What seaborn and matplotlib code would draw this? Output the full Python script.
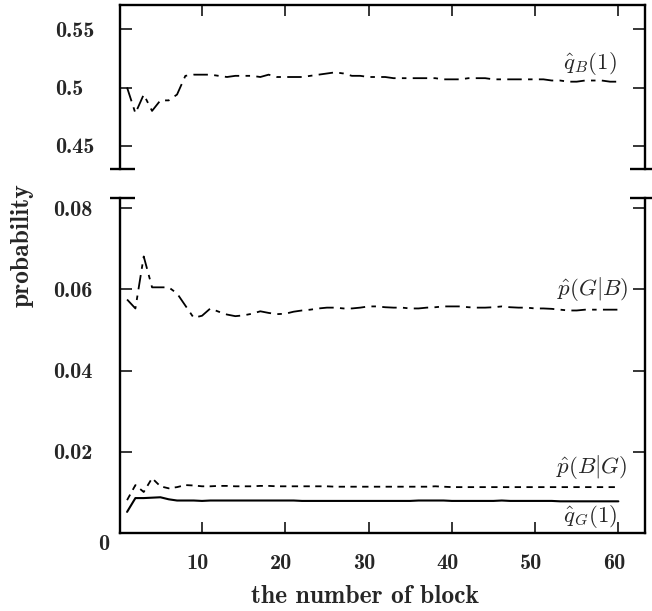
import numpy as np
import pandas as pd
import matplotlib
matplotlib.use("Agg")
import matplotlib.pyplot as plt
import matplotlib.transforms as mtransforms
import seaborn as sns

# ---------------- data ----------------
blocks = list(range(1, 61))

q_B = [0.500, 0.478, 0.494, 0.480, 0.489, 0.489, 0.494, 0.510, 0.511, 0.511,
       0.511, 0.510, 0.509, 0.510, 0.510, 0.510, 0.509, 0.511, 0.509, 0.509,
       0.509, 0.509, 0.510, 0.511, 0.512, 0.513, 0.512, 0.510, 0.510, 0.509,
       0.509, 0.509, 0.508, 0.508, 0.508, 0.508, 0.508, 0.508, 0.507, 0.507,
       0.507, 0.508, 0.508, 0.508, 0.507, 0.507, 0.507, 0.507, 0.507, 0.507,
       0.507, 0.506, 0.506, 0.505, 0.505, 0.506, 0.506, 0.506, 0.505, 0.505]

p_GB = [0.0575, 0.0553, 0.0681, 0.0605, 0.0605, 0.0605, 0.0590, 0.0560, 0.0530, 0.0535,
        0.0553, 0.0545, 0.0538, 0.0534, 0.0536, 0.0540, 0.0546, 0.0542, 0.0539, 0.0540,
        0.0545, 0.0548, 0.0550, 0.0553, 0.0555, 0.0555, 0.0553, 0.0553, 0.0555, 0.0558,
        0.0558, 0.0556, 0.0555, 0.0555, 0.0553, 0.0553, 0.0555, 0.0556, 0.0558, 0.0558,
        0.0558, 0.0556, 0.0555, 0.0555, 0.0556, 0.0558, 0.0556, 0.0555, 0.0555, 0.0553,
        0.0553, 0.0552, 0.0550, 0.0548, 0.0548, 0.0550, 0.0550, 0.0550, 0.0550, 0.0550]

p_BG = [0.0081, 0.0118, 0.0101, 0.0135, 0.0115, 0.0110, 0.0113, 0.0118, 0.0117, 0.0115,
        0.0115, 0.0116, 0.0116, 0.0115, 0.0115, 0.0115, 0.0116, 0.0116, 0.0115, 0.0115,
        0.0115, 0.0115, 0.0115, 0.0115, 0.0115, 0.0114, 0.0114, 0.0114, 0.0114, 0.0114,
        0.0114, 0.0114, 0.0114, 0.0114, 0.0114, 0.0114, 0.0114, 0.0115, 0.0114, 0.0113,
        0.0113, 0.0113, 0.0113, 0.0113, 0.0113, 0.0113, 0.0113, 0.0113, 0.0113, 0.0113,
        0.0113, 0.0113, 0.0113, 0.0113, 0.0113, 0.0113, 0.0113, 0.0113, 0.0113, 0.0113]

q_G = [0.0052, 0.0086, 0.0086, 0.0087, 0.0088, 0.0083, 0.0080, 0.0080, 0.0080, 0.0079,
       0.0080, 0.0080, 0.0080, 0.0080, 0.0080, 0.0080, 0.0080, 0.0080, 0.0080, 0.0080,
       0.0080, 0.0079, 0.0079, 0.0079, 0.0079, 0.0079, 0.0079, 0.0079, 0.0079, 0.0079,
       0.0079, 0.0079, 0.0079, 0.0079, 0.0079, 0.0080, 0.0080, 0.0080, 0.0080, 0.0079,
       0.0079, 0.0079, 0.0079, 0.0079, 0.0079, 0.0080, 0.0079, 0.0079, 0.0079, 0.0079,
       0.0079, 0.0079, 0.0078, 0.0078, 0.0078, 0.0078, 0.0078, 0.0078, 0.0078, 0.0078]

x_ticks = [10, 20, 30, 40, 50, 60]
x_ticklabels = ["10", "20", "30", "40", "50", "60"]
top_yticks = [0.45, 0.5, 0.55]
top_yticklabels = ["0.45", "0.5", "0.55"]
bot_yticks = [0.0, 0.02, 0.04, 0.06, 0.08]
bot_yticklabels = ["0", "0.02", "0.04", "0.06", "0.08"]

labels = {
    "qB": r"$\hat{q}_B(1)$",
    "pGB": r"$\hat{p}(G|B)$",
    "pBG": r"$\hat{p}(B|G)$",
    "qG": r"$\hat{q}_G(1)$",
}

# ---------------- style ----------------
sns.set_style("ticks")
plt.rcParams["mathtext.fontset"] = "cm"
plt.rcParams["font.family"] = ["cmb10", "DejaVu Serif"]
plt.rcParams["axes.unicode_minus"] = False
plt.rcParams["axes.formatter.use_mathtext"] = False

W, H = 652, 611
fig = plt.figure(figsize=(W / 100, H / 100), dpi=100)
L, R = 120, 645
ax_top = fig.add_axes([L / W, 1 - 169 / H, (R - L) / W, (169 - 5) / H])
ax_bot = fig.add_axes([L / W, 1 - 533 / H, (R - L) / W, (533 - 198) / H])

lw = 1.3
dashdot = (0, (8, 3.5, 2.5, 3.5))
sns.lineplot(x=blocks, y=q_B, ax=ax_top, color="black", lw=lw, linestyle=dashdot)
sns.lineplot(x=blocks, y=p_GB, ax=ax_bot, color="black", lw=lw, linestyle=dashdot)
sns.lineplot(x=blocks, y=p_BG, ax=ax_bot, color="black", lw=lw, linestyle=(0, (3.5, 3)))
sns.lineplot(x=blocks, y=q_G, ax=ax_bot, color="black", lw=1.5, linestyle="-")

xlim = (0.15, 63.2)
ax_top.set_xlim(*xlim)
ax_bot.set_xlim(*xlim)
ax_top.set_ylim(0.4303, 0.5706)
ax_bot.set_ylim(0.0, 0.0825)

tick_fs = 16
for ax in (ax_top, ax_bot):
    ax.set_xticks(x_ticks)
    for s in ax.spines.values():
        s.set_linewidth(1.7)
        s.set_color("black")
    ax.set_xlabel("")
    ax.set_ylabel("")

ax_top.set_yticks(top_yticks)
ax_top.set_yticklabels(top_yticklabels, fontsize=tick_fs, ha="left")
ax_top.set_xticklabels([])
ax_top.spines["bottom"].set_visible(False)
ax_top.tick_params(axis="y", direction="in", length=8.5, width=1.3,
                   left=True, right=True, pad=47)
ax_top.tick_params(axis="x", direction="in", length=8, width=1.3,
                   top=True, bottom=False, labelbottom=False, labeltop=False)

ax_bot.set_yticks(bot_yticks)
ax_bot.set_yticklabels(bot_yticklabels, fontsize=tick_fs)
ax_bot.set_xticklabels(x_ticklabels, fontsize=tick_fs)
ax_bot.spines["top"].set_visible(False)
ax_bot.tick_params(axis="y", direction="in", length=8.5, width=1.3,
                   left=True, right=True, pad=19.5)
ax_bot.tick_params(axis="x", direction="in", length=8, width=1.3,
                   top=False, bottom=True, pad=15)

# corner "0" label lower-right of its tick
off0 = mtransforms.ScaledTranslation(16 / 100, -10 / 100, fig.dpi_scale_trans)
for t in ax_bot.get_yticklabels():
    if t.get_text() == "0":
        t.set_transform(t.get_transform() + off0)
offx = mtransforms.ScaledTranslation(-4 / 100, 0, fig.dpi_scale_trans)
for t in ax_bot.get_xticklabels():
    t.set_transform(t.get_transform() + offx)

# axis break caps
for ax, y in ((ax_top, 0.0), (ax_bot, 1.0)):
    ax.plot([-0.019, 0.029], [y, y], transform=ax.transAxes, color="black",
            lw=1.7, clip_on=False, solid_capstyle="butt")
    ax.plot([0.971, 1.013], [y, y], transform=ax.transAxes, color="black",
            lw=1.7, clip_on=False, solid_capstyle="butt")

# series labels
lab_fs = 16.5
ax_top.text(56.6, 0.5206, labels["qB"], fontsize=lab_fs, ha="center", va="center")
ax_bot.text(56.9, 0.0602, labels["pGB"], fontsize=lab_fs, ha="center", va="center")
ax_bot.text(56.8, 0.0162, labels["pBG"], fontsize=lab_fs, ha="center", va="center")
ax_bot.text(56.6, 0.0040, labels["qG"], fontsize=lab_fs, ha="center", va="center")

# axis labels
ax_bot.set_xlabel("the number of block", fontsize=18.4)
ax_bot.xaxis.set_label_coords(365 / W, 1 - 585 / H, transform=fig.transFigure)
ax_bot.set_ylabel("probability", fontsize=18.4)
ax_bot.yaxis.set_label_coords(34 / W, 1 - 245 / H, transform=fig.transFigure)

fig.savefig("out.png", dpi=100)
